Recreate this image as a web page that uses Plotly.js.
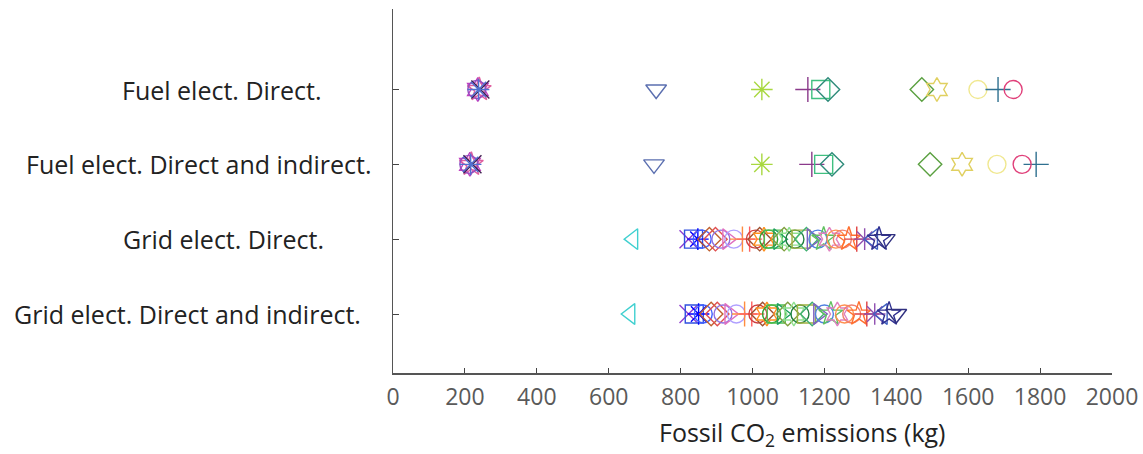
<!DOCTYPE html>
<html>
<head>
<meta charset="utf-8">
<script src="https://cdn.plot.ly/plotly-3.0.1.min.js"></script>
<style>
  html, body { margin: 0; padding: 0; background: #fff; }
  #chart { width: 1143px; height: 454px; }
</style>
</head>
<body>
<div id="chart"></div>
<script>
// Row labels, top to bottom
const categories = [
  "Fuel elect. Direct.",
  "Fuel elect. Direct and indirect.",
  "Grid elect. Direct.",
  "Grid elect. Direct and indirect."
];

// Fossil CO2 emissions (kg) per case
const fuelDirect = [236, 240, 233, 243, 238, 732, 1026, 1154, 1190, 1210, 1471, 1513, 1627, 1683, 1725];
const fuelTotal  = [214, 218, 211, 221, 216, 726, 1026, 1165, 1198, 1221, 1494, 1583, 1680, 1789, 1750];

const gridDirect = [668, 822, 836, 848, 860, 880, 897, 912, 930, 948, 972, 992, 1008, 1020, 1032, 1045,
                    1058, 1072, 1088, 1102, 1118, 1135, 1150, 1165, 1182, 1198, 1214, 1232, 1250, 1268,
                    1290, 1312, 1335, 1352, 1368];
const gridTotal  = [660, 822, 838, 850, 863, 885, 902, 918, 936, 955, 978, 998, 1015, 1028, 1040, 1053,
                    1066, 1082, 1098, 1115, 1132, 1150, 1166, 1183, 1200, 1218, 1236, 1256, 1276, 1296,
                    1318, 1340, 1362, 1380, 1400];

const xTicks = [0, 200, 400, 600, 800, 1000, 1200, 1400, 1600, 1800, 2000];

// Marker styles (symbol, colour) for each case
const fuelSymbols = ["hexagram-open", "star-open", "circle-open", "x-thin-open", "asterisk-open",
  "triangle-down-open", "asterisk-open", "cross-thin-open", "square-open", "diamond-open",
  "diamond-open", "hexagram-open", "circle-open", "cross-thin-open", "circle-open"];
const fuelColors = ["#c040c0", "#e060a0", "#9050c0", "#402050", "#5070d0",
  "#5b6fb0", "#a8d840", "#8b3a8b", "#40c080", "#2e8b7a",
  "#5aa040", "#e0d060", "#f0e890", "#2f7090", "#e0407a"];

const gridSymbols = ["triangle-left-open", "x-thin-open", "square-open", "asterisk-open", "circle-open",
  "diamond-open", "diamond-open", "circle-open", "triangle-right-open", "circle-open",
  "cross-thin-open", "cross-thin-open", "circle-open", "diamond-open", "hexagram-open",
  "circle-open", "square-open", "triangle-right-open", "diamond-open", "hexagram-open",
  "circle-open", "square-open", "diamond-open", "triangle-right-open", "circle-open",
  "star-open", "hexagram-open", "circle-open", "circle-open", "star-open",
  "cross-thin-open", "asterisk-open", "triangle-left-open", "star-open", "triangle-down-open"];
const gridColors = ["#40d0d0", "#9040d0", "#3050e0", "#0000ff", "#4060ff",
  "#c06030", "#e05050", "#9070e0", "#e070c0", "#b0a0ff",
  "#ff8c40", "#ff6060", "#d04040", "#a05030", "#ff9020",
  "#30a030", "#50c050", "#20a060", "#80a040", "#90e090",
  "#208040", "#a0b040", "#40b070", "#8060c0", "#5080e0",
  "#60c060", "#e080c0", "#ff9050", "#f08070", "#ff7030",
  "#e04040", "#9050b0", "#4060c0", "#303090", "#303080"];

const rowValues = [fuelDirect, fuelTotal, gridDirect, gridTotal];
const rowSymbols = [fuelSymbols, fuelSymbols, gridSymbols, gridSymbols];
const rowColors = [fuelColors, fuelColors, gridColors, gridColors];

const n = categories.length;
const traces = rowValues.map((vals, i) => ({
  type: "scatter",
  mode: "markers",
  x: vals,
  y: vals.map(() => n - i),
  name: categories[i],
  marker: {
    symbol: rowSymbols[i],
    color: rowColors[i],
    size: 18,
    line: { width: 1.4 }
  },
  hoverinfo: "x+name"
}));

// Category label centres (px from the left edge of the figure)
const labelCentres = [222, 198, 223, 187];
const plotLeft = 393, plotRight = 1112, plotTop = 9, plotBottom = 373;
const plotW = plotRight - plotLeft;
const plotH = plotBottom - plotTop;
const yTop = 5.076, yBottom = 0.2115;

const annotations = categories.map((c, i) => ({
  text: c,
  xref: "paper", yref: "y",
  x: (labelCentres[i] - plotLeft) / plotW,
  y: n - i,
  xanchor: "center", yanchor: "middle",
  showarrow: false,
  font: { family: "Open Sans", size: 25, color: "#222" }
}));
annotations.push({
  text: "Fossil CO<sub>2</sub> emissions (kg)",
  xref: "paper", yref: "paper",
  x: (802 - plotLeft) / plotW,
  y: (plotBottom - 433) / plotH,
  xanchor: "center", yanchor: "middle",
  showarrow: false,
  font: { family: "Open Sans", size: 25, color: "#222" }
});

const yTickVals = categories.map((c, i) => n - i).concat([yTop]);

const layout = {
  width: 1143,
  height: 454,
  margin: { l: plotLeft, r: 1143 - plotRight, t: plotTop, b: 454 - plotBottom, pad: 0 },
  paper_bgcolor: "#fff",
  plot_bgcolor: "#fff",
  showlegend: false,
  xaxis: {
    range: [0, 2000],
    tickvals: xTicks,
    ticktext: xTicks.map(String),
    ticks: "inside",
    ticklen: 5,
    tickwidth: 1,
    tickcolor: "#444",
    ticklabelstandoff: 3,
    showline: true,
    linecolor: "#555",
    linewidth: 1.5,
    showgrid: false,
    zeroline: false,
    tickfont: { family: "Open Sans", size: 23, color: "#5a5a5a" }
  },
  yaxis: {
    range: [yBottom, yTop],
    tickvals: yTickVals,
    showticklabels: false,
    ticks: "inside",
    ticklen: 6,
    tickwidth: 1,
    tickcolor: "#444",
    showline: true,
    linecolor: "#555",
    linewidth: 1.5,
    showgrid: false,
    zeroline: false
  },
  annotations: annotations
};

Plotly.newPlot("chart", traces, layout, { displayModeBar: false, staticPlot: true });
</script>
</body>
</html>
